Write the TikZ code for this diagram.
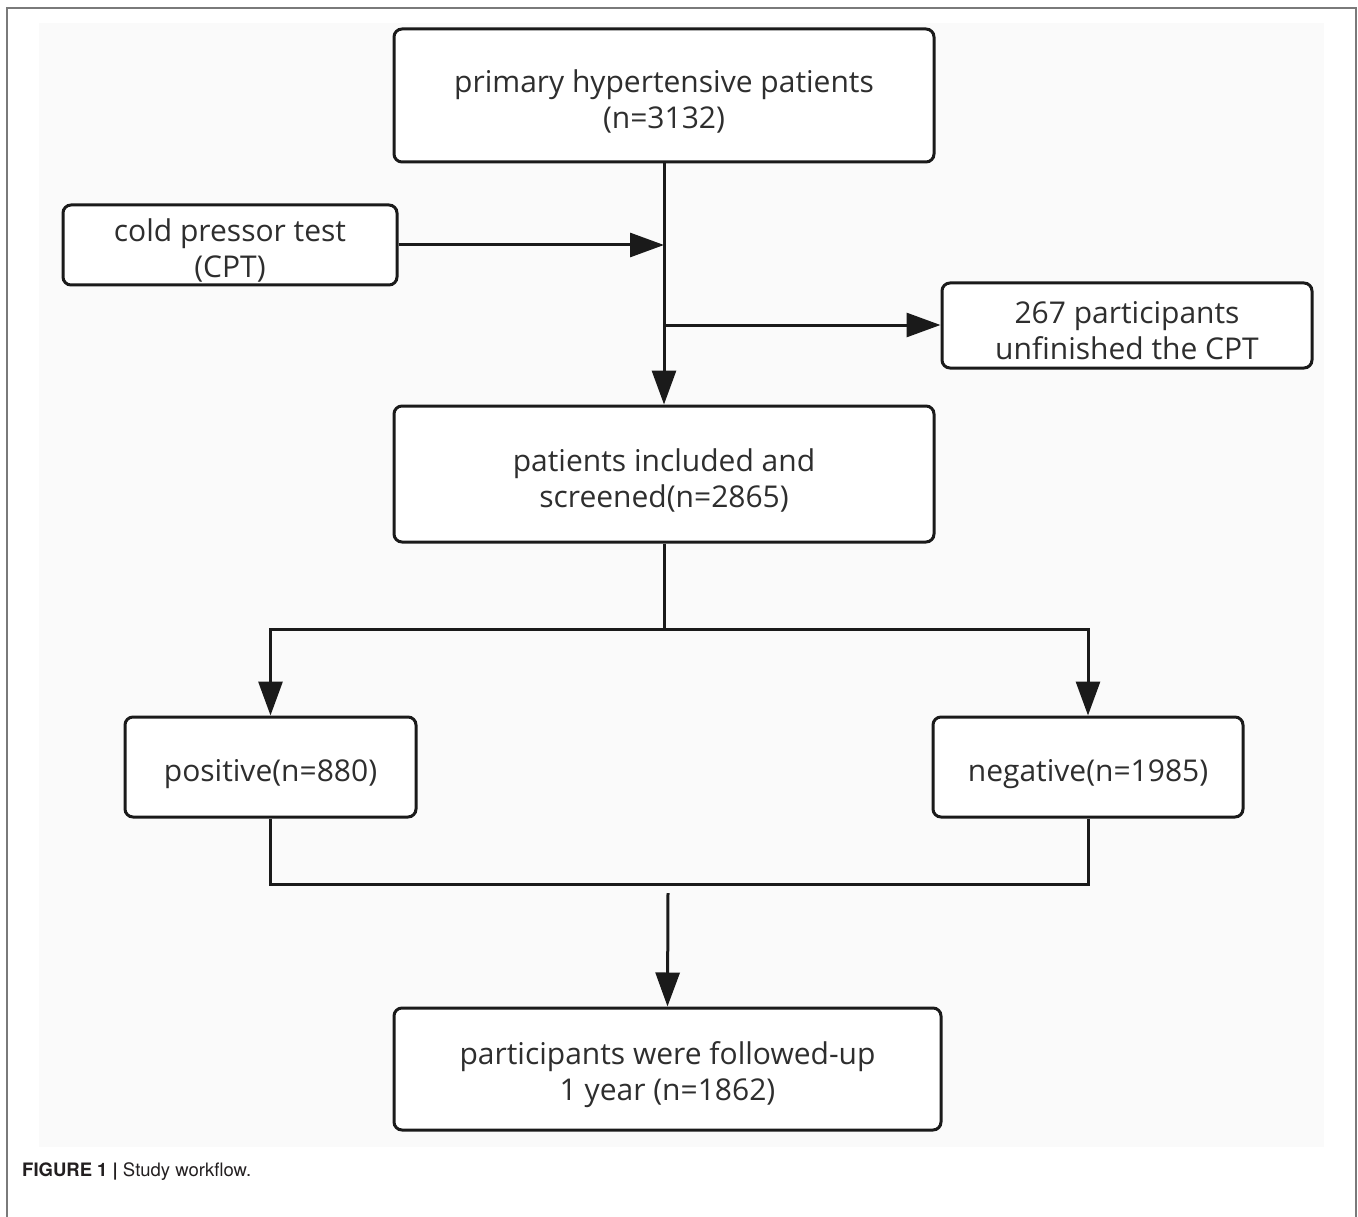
\documentclass[tikz,border=0pt]{standalone}
\usepackage{fontspec}
\setmainfont{Open Sans}
\newfontfamily\capfont{TeX Gyre Heros}
\usetikzlibrary{arrows.meta}
\definecolor{bgc}{HTML}{FAFAFA}
\definecolor{framec}{HTML}{7A7A7A}
\definecolor{inkc}{HTML}{1A1A1A}
\definecolor{txtc}{HTML}{2E2E2E}
\definecolor{capc}{HTML}{231F20}
\begin{document}
\begin{tikzpicture}[x=1pt,y=-1pt,
  boxst/.style={draw=inkc, line width=3pt, rounded corners=8pt, fill=white, inner sep=0pt},
  txt/.style={text=txtc, align=center, font=\fontsize{30}{36}\selectfont, inner sep=0pt},
  conn/.style={draw=inkc, line width=3pt},
  arr/.style={conn, -{Triangle[length=34pt,width=24pt]}}]
\useasboundingbox (0,0) rectangle (1358,1217);
\fill[white] (0,0) rectangle (1358,1217);
\draw[framec, line width=1.5pt] (7,1220) -- (7,8) -- (1356,8) -- (1356,1220);
\fill[bgc] (39,23) rectangle (1324,1147);
% boxes
\node[boxst, minimum width=540pt, minimum height=133pt] (A) at (664,95.5) {};
\node[boxst, minimum width=334pt, minimum height=80pt] (B) at (230,245) {};
\node[boxst, minimum width=370pt, minimum height=85pt] (C) at (1127,325.5) {};
\node[boxst, minimum width=540pt, minimum height=136pt] (D) at (664,474) {};
\node[boxst, minimum width=291pt, minimum height=100pt] (E) at (270.5,767) {};
\node[boxst, minimum width=310pt, minimum height=100pt] (F) at (1088,767) {};
\node[boxst, minimum width=547pt, minimum height=122pt] (G) at (667.5,1069) {};
% texts
\node[txt] (At) at (664,101.5) {primary hypertensive patients\\(n=3132)};
\node[txt] (Bt) at (230,250) {cold pressor test\\(CPT)};
\node[txt] (Ct) at (1127,330.5) {267 participants\\unfinished the CPT};
\node[txt] (Dt) at (664,480) {patients included and\\screened(n=2865)};
\node[txt] (Et) at (270.5,774) {positive(n=880)};
\node[txt] (Ft) at (1088,774) {negative(n=1985)};
\node[txt] (Gt) at (667.5,1075) {participants were followed-up\\1 year (n=1862)};
% connectors
\coordinate (j1) at (664,325);
\coordinate (j2) at (664,629);
\coordinate (j3) at (668,884);
\coordinate (s) at (668,893);
\draw[arr] (A.south) -- (D.north);
\draw[arr] (B.east) -- (B.east -| A.south);
\draw[arr] (j1) -- (j1 -| C.west);
\draw[conn] (D.south) -- (j2);
\draw[arr] (j2) -| (E.north);
\draw[arr] (j2) -| (F.north);
\draw[conn] (E.south) |- (j3) -| (F.south);
\draw[arr] (s) -- (G.north);
% caption
\node[anchor=base west, inner sep=0pt, text=capc, font=\capfont\fontsize{18.5}{22}\selectfont] (cap) at (22,1176) {\textbf{FIGURE 1 |} Study workflow.};
\end{tikzpicture}
\end{document}
